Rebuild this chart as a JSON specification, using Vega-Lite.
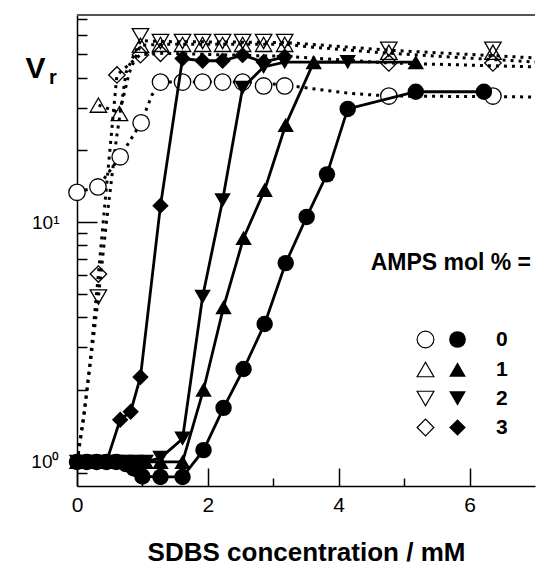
{
  "$schema": "https://vega.github.io/schema/vega-lite/v6.json",
  "width": 458,
  "height": 471,
  "autosize": "none",
  "padding": {"left": 77, "top": 15, "right": 4, "bottom": 81},
  "background": "white",
  "config": {
    "view": {"stroke": null},
    "font": "Liberation Sans",
    "axis": {"domainColor": "black", "domainWidth": 1.5, "tickColor": "black", "tickWidth": 1.5, "labelColor": "black", "titleColor": "black", "grid": false}
  },
  "datasets": {
    "pts": [
      {"c": 0, "vr": 13.3, "amps": "0", "kind": "open"},
      {"c": 0.32, "vr": 14.0, "amps": "0", "kind": "open"},
      {"c": 0.66, "vr": 18.7, "amps": "0", "kind": "open"},
      {"c": 0.98, "vr": 25.9, "amps": "0", "kind": "open"},
      {"c": 1.276, "vr": 38.3, "amps": "0", "kind": "open"},
      {"c": 1.613, "vr": 38.3, "amps": "0", "kind": "open"},
      {"c": 1.919, "vr": 38.3, "amps": "0", "kind": "open"},
      {"c": 2.225, "vr": 38.3, "amps": "0", "kind": "open"},
      {"c": 2.531, "vr": 38.3, "amps": "0", "kind": "open"},
      {"c": 2.852, "vr": 36.9, "amps": "0", "kind": "open"},
      {"c": 3.174, "vr": 36.9, "amps": "0", "kind": "open"},
      {"c": 4.766, "vr": 33.5, "amps": "0", "kind": "open"},
      {"c": 6.357, "vr": 33.5, "amps": "0", "kind": "open"},
      {"c": 0.327, "vr": 30.7, "amps": "1", "kind": "open"},
      {"c": 0.649, "vr": 28.3, "amps": "1", "kind": "open"},
      {"c": 0.97, "vr": 54.5, "amps": "1", "kind": "open"},
      {"c": 1.276, "vr": 55.0, "amps": "1", "kind": "open"},
      {"c": 1.613, "vr": 55.0, "amps": "1", "kind": "open"},
      {"c": 1.919, "vr": 55.0, "amps": "1", "kind": "open"},
      {"c": 2.225, "vr": 55.0, "amps": "1", "kind": "open"},
      {"c": 2.531, "vr": 55.0, "amps": "1", "kind": "open"},
      {"c": 2.852, "vr": 55.0, "amps": "1", "kind": "open"},
      {"c": 3.174, "vr": 55.0, "amps": "1", "kind": "open"},
      {"c": 4.766, "vr": 51.0, "amps": "1", "kind": "open"},
      {"c": 6.357, "vr": 51.0, "amps": "1", "kind": "open"},
      {"c": 0.327, "vr": 4.87, "amps": "2", "kind": "open"},
      {"c": 0.97, "vr": 59.8, "amps": "2", "kind": "open"},
      {"c": 1.276, "vr": 56.5, "amps": "2", "kind": "open"},
      {"c": 1.613, "vr": 56.5, "amps": "2", "kind": "open"},
      {"c": 1.919, "vr": 56.5, "amps": "2", "kind": "open"},
      {"c": 2.225, "vr": 56.5, "amps": "2", "kind": "open"},
      {"c": 2.531, "vr": 56.5, "amps": "2", "kind": "open"},
      {"c": 2.852, "vr": 56.5, "amps": "2", "kind": "open"},
      {"c": 3.174, "vr": 56.5, "amps": "2", "kind": "open"},
      {"c": 4.766, "vr": 52.5, "amps": "2", "kind": "open"},
      {"c": 6.357, "vr": 52.5, "amps": "2", "kind": "open"},
      {"c": 0.327, "vr": 6.07, "amps": "3", "kind": "open"},
      {"c": 0.61, "vr": 41.0, "amps": "3", "kind": "open"},
      {"c": 0.97, "vr": 49.8, "amps": "3", "kind": "open"},
      {"c": 1.276, "vr": 50.5, "amps": "3", "kind": "open"},
      {"c": 4.766, "vr": 46.0, "amps": "3", "kind": "open"},
      {"c": 6.357, "vr": 46.0, "amps": "3", "kind": "open"},

      {"c": 0, "vr": 1.0, "amps": "0", "kind": "filled"},
      {"c": 0.15, "vr": 1.0, "amps": "0", "kind": "filled"},
      {"c": 0.3, "vr": 1.0, "amps": "0", "kind": "filled"},
      {"c": 0.45, "vr": 1.0, "amps": "0", "kind": "filled"},
      {"c": 0.6, "vr": 1.0, "amps": "0", "kind": "filled"},
      {"c": 0.75, "vr": 0.98, "amps": "0", "kind": "filled"},
      {"c": 0.87, "vr": 0.94, "amps": "0", "kind": "filled"},
      {"c": 1.0, "vr": 0.87, "amps": "0", "kind": "filled"},
      {"c": 1.276, "vr": 0.866, "amps": "0", "kind": "filled"},
      {"c": 1.613, "vr": 0.866, "amps": "0", "kind": "filled"},
      {"c": 1.934, "vr": 1.12, "amps": "0", "kind": "filled"},
      {"c": 2.24, "vr": 1.68, "amps": "0", "kind": "filled"},
      {"c": 2.546, "vr": 2.44, "amps": "0", "kind": "filled"},
      {"c": 2.868, "vr": 3.76, "amps": "0", "kind": "filled"},
      {"c": 3.19, "vr": 6.74, "amps": "0", "kind": "filled"},
      {"c": 3.51, "vr": 10.5, "amps": "0", "kind": "filled"},
      {"c": 3.82, "vr": 15.8, "amps": "0", "kind": "filled"},
      {"c": 4.138, "vr": 29.6, "amps": "0", "kind": "filled"},
      {"c": 5.178, "vr": 34.9, "amps": "0", "kind": "filled"},
      {"c": 6.219, "vr": 34.9, "amps": "0", "kind": "filled"},

      {"c": 0, "vr": 1.0, "amps": "1", "kind": "filled"},
      {"c": 0.15, "vr": 1.0, "amps": "1", "kind": "filled"},
      {"c": 0.3, "vr": 1.0, "amps": "1", "kind": "filled"},
      {"c": 0.45, "vr": 1.0, "amps": "1", "kind": "filled"},
      {"c": 0.6, "vr": 1.0, "amps": "1", "kind": "filled"},
      {"c": 0.75, "vr": 1.0, "amps": "1", "kind": "filled"},
      {"c": 0.9, "vr": 1.0, "amps": "1", "kind": "filled"},
      {"c": 1.05, "vr": 1.0, "amps": "1", "kind": "filled"},
      {"c": 1.276, "vr": 1.0, "amps": "1", "kind": "filled"},
      {"c": 1.613, "vr": 1.0, "amps": "1", "kind": "filled"},
      {"c": 1.934, "vr": 2.0, "amps": "1", "kind": "filled"},
      {"c": 2.24, "vr": 4.42, "amps": "1", "kind": "filled"},
      {"c": 2.546, "vr": 8.58, "amps": "1", "kind": "filled"},
      {"c": 2.868, "vr": 13.6, "amps": "1", "kind": "filled"},
      {"c": 3.19, "vr": 25.4, "amps": "1", "kind": "filled"},
      {"c": 3.618, "vr": 46.4, "amps": "1", "kind": "filled"},
      {"c": 5.178, "vr": 46.4, "amps": "1", "kind": "filled"},

      {"c": 0, "vr": 1.0, "amps": "2", "kind": "filled"},
      {"c": 0.15, "vr": 1.0, "amps": "2", "kind": "filled"},
      {"c": 0.3, "vr": 1.0, "amps": "2", "kind": "filled"},
      {"c": 0.45, "vr": 1.0, "amps": "2", "kind": "filled"},
      {"c": 0.6, "vr": 1.0, "amps": "2", "kind": "filled"},
      {"c": 0.75, "vr": 1.0, "amps": "2", "kind": "filled"},
      {"c": 0.9, "vr": 1.0, "amps": "2", "kind": "filled"},
      {"c": 1.05, "vr": 1.0, "amps": "2", "kind": "filled"},
      {"c": 1.276, "vr": 1.04, "amps": "2", "kind": "filled"},
      {"c": 1.613, "vr": 1.25, "amps": "2", "kind": "filled"},
      {"c": 1.919, "vr": 4.87, "amps": "2", "kind": "filled"},
      {"c": 2.225, "vr": 12.3, "amps": "2", "kind": "filled"},
      {"c": 2.531, "vr": 36.2, "amps": "2", "kind": "filled"},
      {"c": 2.852, "vr": 44.3, "amps": "2", "kind": "filled"},
      {"c": 3.174, "vr": 46.4, "amps": "2", "kind": "filled"},
      {"c": 4.138, "vr": 46.4, "amps": "2", "kind": "filled"},

      {"c": 0, "vr": 1.0, "amps": "3", "kind": "filled"},
      {"c": 0.15, "vr": 1.0, "amps": "3", "kind": "filled"},
      {"c": 0.3, "vr": 1.0, "amps": "3", "kind": "filled"},
      {"c": 0.45, "vr": 1.0, "amps": "3", "kind": "filled"},
      {"c": 0.66, "vr": 1.5, "amps": "3", "kind": "filled"},
      {"c": 0.82, "vr": 1.62, "amps": "3", "kind": "filled"},
      {"c": 0.97, "vr": 2.26, "amps": "3", "kind": "filled"},
      {"c": 1.276, "vr": 11.7, "amps": "3", "kind": "filled"},
      {"c": 1.613, "vr": 48.0, "amps": "3", "kind": "filled"},
      {"c": 1.919, "vr": 47.0, "amps": "3", "kind": "filled"},
      {"c": 2.225, "vr": 47.0, "amps": "3", "kind": "filled"},
      {"c": 2.531, "vr": 49.6, "amps": "3", "kind": "filled"},
      {"c": 2.852, "vr": 46.4, "amps": "3", "kind": "filled"},
      {"c": 3.174, "vr": 48.8, "amps": "3", "kind": "filled"}
    ],
    "fits": [
      {"c": 0, "vr": 13.3, "amps": "0"},
      {"c": 0.32, "vr": 14.0, "amps": "0"},
      {"c": 0.66, "vr": 18.7, "amps": "0"},
      {"c": 0.98, "vr": 26.0, "amps": "0"},
      {"c": 1.15, "vr": 34.0, "amps": "0"},
      {"c": 1.3, "vr": 38.3, "amps": "0"},
      {"c": 2.6, "vr": 38.3, "amps": "0"},
      {"c": 3.2, "vr": 37.2, "amps": "0"},
      {"c": 3.65, "vr": 35.8, "amps": "0"},
      {"c": 4.2, "vr": 34.3, "amps": "0"},
      {"c": 4.77, "vr": 33.5, "amps": "0"},
      {"c": 7.0, "vr": 33.2, "amps": "0"},
      {"c": 0.33, "vr": 30.7, "amps": "1"},
      {"c": 0.65, "vr": 28.5, "amps": "1"},
      {"c": 0.8, "vr": 42.0, "amps": "1"},
      {"c": 0.97, "vr": 54.5, "amps": "1"},
      {"c": 1.3, "vr": 55.0, "amps": "1"},
      {"c": 3.2, "vr": 55.0, "amps": "1"},
      {"c": 3.6, "vr": 53.5, "amps": "1"},
      {"c": 4.77, "vr": 50.5, "amps": "1"},
      {"c": 7.0, "vr": 46.4, "amps": "1"},
      {"c": 0, "vr": 1.0, "amps": "2"},
      {"c": 0.12, "vr": 1.7, "amps": "2"},
      {"c": 0.22, "vr": 2.8, "amps": "2"},
      {"c": 0.327, "vr": 4.87, "amps": "2"},
      {"c": 0.45, "vr": 10.0, "amps": "2"},
      {"c": 0.6, "vr": 22.0, "amps": "2"},
      {"c": 0.75, "vr": 42.0, "amps": "2"},
      {"c": 0.97, "vr": 57.0, "amps": "2"},
      {"c": 1.3, "vr": 56.5, "amps": "2"},
      {"c": 3.2, "vr": 56.0, "amps": "2"},
      {"c": 4.77, "vr": 52.0, "amps": "2"},
      {"c": 7.0, "vr": 48.3, "amps": "2"},
      {"c": 0, "vr": 1.0, "amps": "3"},
      {"c": 0.1, "vr": 1.5, "amps": "3"},
      {"c": 0.2, "vr": 2.6, "amps": "3"},
      {"c": 0.327, "vr": 6.07, "amps": "3"},
      {"c": 0.45, "vr": 14.0, "amps": "3"},
      {"c": 0.61, "vr": 41.0, "amps": "3"},
      {"c": 0.97, "vr": 49.8, "amps": "3"},
      {"c": 1.3, "vr": 50.5, "amps": "3"},
      {"c": 3.2, "vr": 49.0, "amps": "3"},
      {"c": 4.77, "vr": 46.0, "amps": "3"},
      {"c": 7.0, "vr": 44.3, "amps": "3"}
    ],
    "frame": [
      {"top": 72.9}
    ],
    "notes": [
      {"c": 5.714, "vr": 6.75, "txt": "AMPS mol % =", "role": "head"},
      {"c": -0.37, "vr": 40.0, "txt": "r", "role": "sub"}
    ]
  },
  "layer": [
    {
      "data": {"name": "fits"},
      "mark": {"type": "line", "color": "black", "strokeWidth": 3, "strokeDash": [3, 5], "strokeCap": "butt", "clip": true},
      "encoding": {
        "x": {
          "field": "c", "type": "quantitative",
          "scale": {"domain": [0, 7], "nice": false, "zero": false},
          "axis": {
            "title": "SDBS concentration / mM",
            "values": [0, 1, 2, 3, 4, 5, 6],
            "labelExpr": "datum.value % 2 == 0 ? format(datum.value, 'd') : ''",
            "labelFlush": false,
            "ticks": true,
            "tickSize": {"condition": {"test": "datum.value % 2 == 0", "value": -18}, "value": -8},
            "labelPadding": 26,
            "labelFontSize": 21,
            "labelFont": "Liberation Sans",
            "titleFontSize": 26,
            "titleFontWeight": "bold",
            "titleFont": "Liberation Sans",
            "titleBaseline": "alphabetic",
            "titleY": 74,
            "domainWidth": 1.5,
            "zindex": 1
          }
        },
        "y": {
          "field": "vr", "type": "quantitative",
          "scale": {"type": "log", "domain": [0.794, 72.9], "nice": false},
          "axis": {
            "title": "V",
            "titleAngle": 0,
            "titleX": -42,
            "titleY": 53,
            "titleAlign": "center",
            "titleBaseline": "middle",
            "titleFontSize": 30,
            "titleFontWeight": "bold",
            "titleFont": "Liberation Sans",
            "values": [0.9, 1, 2, 3, 4, 5, 6, 7, 8, 9, 10, 20, 30, 40, 50, 60, 70],
            "labelExpr": "datum.value == 1 ? '10⁰' : (datum.value == 10 ? '10¹' : '')",
            "labelFlush": false,
            "tickSize": {"condition": {"test": "datum.value == 1 || datum.value == 10", "value": -20}, "value": -10},
            "labelPadding": 38,
            "labelFontSize": 19,
            "labelFont": "Liberation Sans",
            "domainWidth": 1.5
          }
        },
        "detail": {"field": "amps"}
      }
    },
    {
      "data": {"name": "frame"},
      "mark": {"type": "rule", "color": "#555", "strokeWidth": 2},
      "encoding": {
        "y": {"field": "top", "type": "quantitative", "scale": {"type": "log", "domain": [0.794, 72.9], "nice": false}}
      }
    },
    {
      "data": {"name": "pts"},
      "transform": [{"filter": "datum.kind == 'open' && datum.amps == '0'"}],
      "mark": {"type": "point", "filled": true, "color": "white", "size": 250, "opacity": 1},
      "encoding": {
        "x": {"field": "c", "type": "quantitative", "scale": {"domain": [0, 7], "nice": false, "zero": false}},
        "y": {"field": "vr", "type": "quantitative", "scale": {"type": "log", "domain": [0.794, 72.9], "nice": false}}
      }
    },
    {
      "data": {"name": "pts"},
      "transform": [{"filter": "datum.kind == 'filled'"}],
      "mark": {"type": "line", "color": "black", "strokeWidth": 2.8},
      "encoding": {
        "x": {"field": "c", "type": "quantitative", "scale": {"domain": [0, 7], "nice": false, "zero": false}},
        "y": {"field": "vr", "type": "quantitative", "scale": {"type": "log", "domain": [0.794, 72.9], "nice": false}},
        "detail": {"field": "amps"}
      }
    },
    {
      "data": {"name": "pts"},
      "transform": [{"filter": "datum.kind == 'open'"}],
      "mark": {"type": "point", "filled": false, "stroke": "black", "strokeWidth": 1.3, "size": 270, "opacity": 1},
      "encoding": {
        "x": {"field": "c", "type": "quantitative", "scale": {"domain": [0, 7], "nice": false, "zero": false}},
        "y": {"field": "vr", "type": "quantitative", "scale": {"type": "log", "domain": [0.794, 72.9], "nice": false}},
        "shape": {
          "field": "amps", "type": "nominal",
          "scale": {"domain": ["0", "1", "2", "3"], "range": ["circle", "triangle-up", "triangle-down", "diamond"]},
          "legend": {
            "orient": "none", "legendX": 338, "legendY": 314, "title": null,
            "labelExpr": "''", "labelFontSize": 21, "labelFontWeight": "bold",
            "symbolSize": 280, "symbolStrokeWidth": 1.2, "symbolStrokeColor": "black", "symbolFillColor": "transparent",
            "rowPadding": 7, "labelOffset": 4
          }
        }
      }
    },
    {
      "data": {"name": "pts"},
      "transform": [{"filter": "datum.kind == 'filled'"}],
      "mark": {"type": "point", "filled": true, "color": "black", "size": 270, "opacity": 1},
      "encoding": {
        "x": {"field": "c", "type": "quantitative", "scale": {"domain": [0, 7], "nice": false, "zero": false}},
        "y": {"field": "vr", "type": "quantitative", "scale": {"type": "log", "domain": [0.794, 72.9], "nice": false}},
        "shape": {
          "field": "amps", "type": "nominal",
          "scale": {"domain": ["0", "1", "2", "3"], "range": ["circle", "triangle-up", "triangle-down", "diamond"]},
          "legend": {
            "orient": "none", "legendX": 370, "legendY": 314, "title": null,
            "labelFontSize": 21, "labelFontWeight": "bold", "labelFont": "Liberation Sans", "labelColor": "black",
            "symbolSize": 280, "symbolFillColor": "black", "symbolStrokeColor": "black",
            "rowPadding": 7, "labelOffset": 28
          }
        }
      }
    },
    {
      "data": {"name": "notes"},
      "mark": {"type": "text", "fontWeight": "bold", "color": "black", "clip": false, "align": "center", "baseline": "middle", "font": "Liberation Sans"},
      "encoding": {
        "x": {"field": "c", "type": "quantitative", "scale": {"domain": [0, 7], "nice": false, "zero": false}},
        "y": {"field": "vr", "type": "quantitative", "scale": {"type": "log", "domain": [0.794, 72.9], "nice": false}},
        "text": {"field": "txt"},
        "size": {"field": "role", "type": "nominal", "scale": {"domain": ["head", "sub"], "range": [23, 20]}, "legend": null}
      }
    }
  ],
  "resolve": {"scale": {"shape": "independent"}, "legend": {"shape": "independent"}}
}
